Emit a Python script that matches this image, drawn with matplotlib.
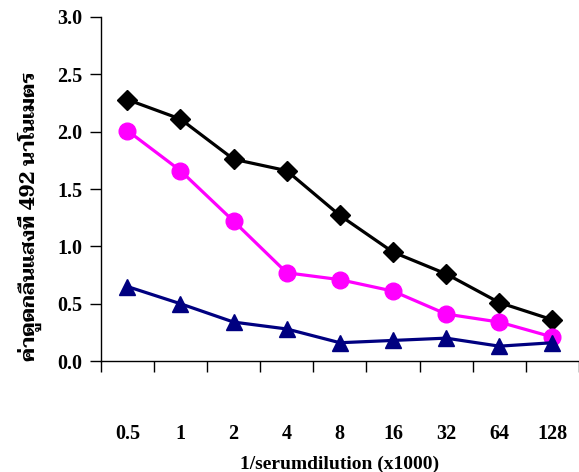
import matplotlib
matplotlib.use("Agg")
import matplotlib.pyplot as plt
import numpy as np

categories = ["0.5", "1", "2", "4", "8", "16", "32", "64", "128"]
series_black = [2.28, 2.11, 1.76, 1.66, 1.27, 0.95, 0.76, 0.51, 0.36]
series_magenta = [2.01, 1.66, 1.22, 0.77, 0.71, 0.61, 0.41, 0.34, 0.21]
series_navy = [0.65, 0.50, 0.34, 0.28, 0.16, 0.18, 0.20, 0.13, 0.16]
y_ticks = [0.0, 0.5, 1.0, 1.5, 2.0, 2.5, 3.0]
x_label = "1/serumdilution (x1000)"
y_label = "ค่าดูดกลืนแสงที่ 492 นาโนเมตร"

fig = plt.figure(figsize=(5.79, 4.72), dpi=100)
ax = fig.add_axes([0.174, 0.235, 0.826, 0.729])

x = np.arange(len(categories))
ax.plot(x, series_black, color="black", lw=2.3, marker="D", ms=10, zorder=3)
ax.plot(x, series_magenta, color="#FF00FF", lw=2.3, marker="o", ms=12, zorder=3)
ax.plot(x, series_navy, color="#000080", lw=2.3, marker="^", ms=11, zorder=3)

ax.set_xlim(-0.5, len(categories) - 0.5)
ax.set_ylim(0, 3.0)
ax.set_yticks(y_ticks)
ax.set_yticklabels([f"{v:.1f}" for v in y_ticks])
ax.set_xticks(x)
ax.set_xticklabels(categories)
ax.set_xticks(np.arange(len(categories) + 1) - 0.5, minor=True)

for s in ["top", "right"]:
    ax.spines[s].set_visible(False)
for s in ["left", "bottom"]:
    ax.spines[s].set_linewidth(1.0)

ax.tick_params(axis="x", which="major", length=0, pad=45)
ax.tick_params(axis="x", which="minor", length=8, width=1, direction="out")
ax.tick_params(axis="y", which="major", length=8, width=1, direction="out", pad=5)
for lab in ax.get_xticklabels() + ax.get_yticklabels():
    lab.set_fontfamily("Liberation Serif")
    lab.set_fontweight("bold")
    lab.set_fontsize(14.5)

ax.set_xlabel(x_label, fontfamily="Liberation Serif", fontweight="bold", fontsize=14, labelpad=9)
ax.set_ylabel(y_label, fontfamily=["Taviraj", "Noto Serif Thai", "Liberation Serif"], fontweight="bold",
              fontsize=14.5)
ax.yaxis.set_label_coords(-0.122, 0.42)

fig.savefig("out.png", dpi=100)
